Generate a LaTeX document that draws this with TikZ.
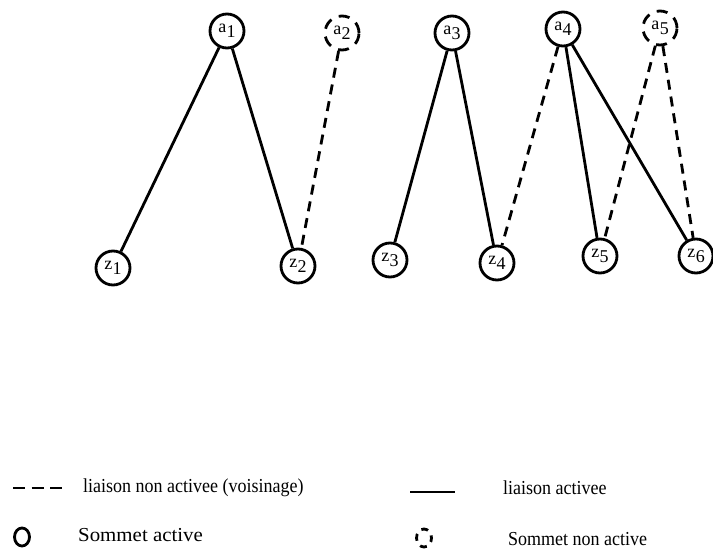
\documentclass[tikz,border=0pt]{standalone}
\usepackage{fontspec}
\setmainfont{Liberation Serif}
\begin{document}
\begin{tikzpicture}[x=1pt,y=-1pt,
  vertex/.style={circle,draw,line width=2.8pt,minimum size=34pt,inner sep=0pt,font=\fontsize{18}{18}\selectfont},
  inactive/.style={vertex,dash pattern=on 11pt off 8pt},
  linkon/.style={line width=2.8pt},
  linkoff/.style={line width=2.8pt,dash pattern=on 10pt off 7pt},
  legendtext/.style={anchor=west,inner sep=0pt,font=\fontsize{18}{18}\selectfont}]
\useasboundingbox (0,0) rectangle (713,549);
\newcommand{\lbl}[2]{#1\kern0.5pt\raisebox{-5pt}{#2}}
\newcommand{\tallish}[1]{\scalebox{1}[1.1]{#1}}
% upper row: a-vertices
\node[vertex]   (a1) at (227,31) {\lbl{a}{1}};
\node[inactive] (a2) at (342,33) {\lbl{a}{2}};
\node[vertex]   (a3) at (452,33) {\lbl{a}{3}};
\node[vertex]   (a4) at (563,29) {\lbl{a}{4}};
\node[inactive] (a5) at (660,28) {\lbl{a}{5}};
% lower row: z-vertices
\node[vertex] (z1) at (113,268) {\lbl{z}{1}};
\node[vertex] (z2) at (298,266) {\lbl{z}{2}};
\node[vertex] (z3) at (390,260) {\lbl{z}{3}};
\node[vertex] (z4) at (497,263) {\lbl{z}{4}};
\node[vertex] (z5) at (600,256) {\lbl{z}{5}};
\node[vertex] (z6) at (696,256) {\lbl{z}{6}};
% activated links
\draw[linkon] (a1) -- (z1);
\draw[linkon] (a1) -- (z2);
\draw[linkon] (a3) -- (z3);
\draw[linkon] (a3) -- (z4);
\draw[linkon] (a4) -- (z5);
\draw[linkon] (a4) -- (z6);
% non-activated links (neighbourhood)
\draw[linkoff] (a2) -- (z2);
\draw[linkoff] (a4) -- (z4);
\draw[linkoff] (a5) -- (z5);
\draw[linkoff] (a5) -- (z6);
% legend
\coordinate (d1) at (13,488);
\coordinate (d2) at (62,488);
\draw[line width=2.8pt,dash pattern=on 12pt off 6.5pt] (d1) -- (d2);
\node[legendtext] (t1) at (83,488) {\tallish{liaison non activee (voisinage)}};
\coordinate (s1) at (410,492);
\coordinate (s2) at (455,492);
\draw[linkon] (s1) -- (s2);
\node[legendtext] (t2) at (503,488) {\tallish{liaison activee}};
\draw[line width=2.8pt] (22,537) ellipse (7.5 and 9);
\node[legendtext] (t3) at (78,535) {\scalebox{1.16}[1.1]{Sommet active}};
\draw[line width=2.8pt,dash pattern=on 7pt off 6pt,dash phase=3pt] (424,538) ellipse (7.5 and 9);
\node[legendtext] (t4) at (508,539) {\tallish{Sommet non active}};
\end{tikzpicture}
\end{document}
